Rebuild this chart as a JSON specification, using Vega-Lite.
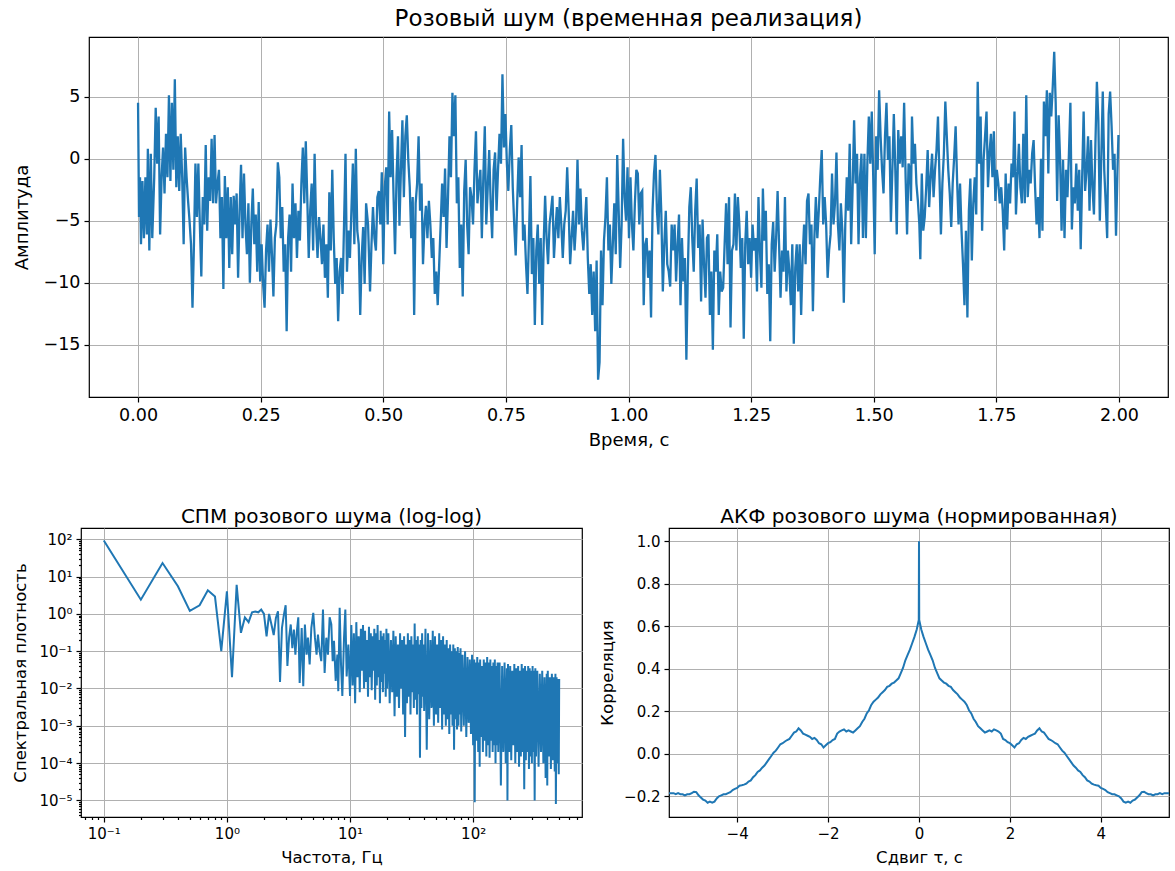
{
"$schema": "https://vega.github.io/schema/vega-lite/v6.json",
"background": "white",
"padding": {"left": 12, "top": 7, "right": 6, "bottom": 10},
"config": {
 "font": "DejaVu Sans",
 "view": {"stroke": "black", "strokeWidth": 1.2},
 "axis": {"domain": false, "grid": true, "gridColor": "#b0b0b0", "gridWidth": 1, "tickColor": "black", "tickWidth": 1.2, "tickSize": 5, "labelColor": "black", "labelPadding": 4, "titleColor": "black", "titleFontWeight": "normal", "labelFont": "DejaVu Sans", "titleFont": "DejaVu Sans", "labelFlush": false, "labelOverlap": false},
 "title": {"font": "DejaVu Sans", "fontWeight": "normal", "color": "black"},
 "line": {"color": "#1f77b4", "strokeWidth": 2}
},
"datasets": {
"sig": [
{"t":0.000,"v":4.5},{"t":0.002,"v":-4.7},{"t":0.004,"v":-1.5},{"t":0.006,"v":-6.9},{"t":0.009,"v":-1.8},{"t":0.012,"v":-6.4},{"t":0.015,"v":-1.5},{"t":0.018,"v":-6.1},{"t":0.020,"v":0.8},{"t":0.023,"v":-7.4},{"t":0.026,"v":0.4},{"t":0.029,"v":-6.4},{"t":0.033,"v":-1.5},{"t":0.036,"v":4.1},{"t":0.039,"v":-0.4},{"t":0.042,"v":3.4},{"t":0.045,"v":-6.1},{"t":0.048,"v":-1.5},{"t":0.051,"v":0.9},{"t":0.054,"v":-2.8},{"t":0.057,"v":2.0},{"t":0.060,"v":-1.5},{"t":0.063,"v":5.1},{"t":0.066,"v":-1.8},{"t":0.069,"v":4.5},{"t":0.072,"v":-0.9},{"t":0.075,"v":6.4},{"t":0.078,"v":-2.3},{"t":0.081,"v":1.8},{"t":0.084,"v":-2.6},{"t":0.087,"v":2.0},{"t":0.090,"v":-1.5},{"t":0.093,"v":-6.9},{"t":0.096,"v":0.9},{"t":0.099,"v":-1.5},{"t":0.102,"v":-3.4},{"t":0.105,"v":-5.0},{"t":0.108,"v":-6.9},{"t":0.111,"v":-12.0},{"t":0.114,"v":-6.9},{"t":0.117,"v":-0.4},{"t":0.120,"v":-4.7},{"t":0.123,"v":-0.4},{"t":0.126,"v":-5.3},{"t":0.129,"v":-9.5},{"t":0.132,"v":-3.1},{"t":0.135,"v":-5.3},{"t":0.138,"v":1.1},{"t":0.141,"v":-5.8},{"t":0.144,"v":-1.5},{"t":0.147,"v":-3.4},{"t":0.150,"v":1.6},{"t":0.153,"v":-3.6},{"t":0.156,"v":1.9},{"t":0.159,"v":-3.6},{"t":0.162,"v":-2.0},{"t":0.165,"v":-0.9},{"t":0.168,"v":-6.4},{"t":0.171,"v":-3.1},{"t":0.174,"v":-10.5},{"t":0.177,"v":-1.4},{"t":0.180,"v":-6.4},{"t":0.183,"v":-2.3},{"t":0.186,"v":-8.8},{"t":0.189,"v":-3.1},{"t":0.192,"v":-7.7},{"t":0.195,"v":-3.0},{"t":0.198,"v":-5.3},{"t":0.201,"v":-2.8},{"t":0.204,"v":-9.6},{"t":0.207,"v":-4.2},{"t":0.210,"v":-0.5},{"t":0.213,"v":-6.4},{"t":0.216,"v":-1.2},{"t":0.219,"v":-5.3},{"t":0.222,"v":-7.7},{"t":0.225,"v":-3.6},{"t":0.228,"v":-10.0},{"t":0.231,"v":-5.3},{"t":0.234,"v":-2.4},{"t":0.237,"v":-6.9},{"t":0.240,"v":-4.5},{"t":0.243,"v":-9.1},{"t":0.246,"v":-3.5},{"t":0.249,"v":-9.9},{"t":0.252,"v":-6.9},{"t":0.255,"v":-10.1},{"t":0.258,"v":-12.0},{"t":0.261,"v":-7.4},{"t":0.264,"v":-5.3},{"t":0.267,"v":-9.1},{"t":0.270,"v":-4.9},{"t":0.273,"v":-7.7},{"t":0.276,"v":-11.1},{"t":0.279,"v":-6.4},{"t":0.282,"v":-5.3},{"t":0.285,"v":-0.3},{"t":0.288,"v":-1.5},{"t":0.291,"v":-6.4},{"t":0.294,"v":-3.9},{"t":0.297,"v":-9.1},{"t":0.300,"v":-6.9},{"t":0.303,"v":-13.9},{"t":0.306,"v":-6.4},{"t":0.309,"v":-4.5},{"t":0.312,"v":-9.1},{"t":0.315,"v":-2.0},{"t":0.318,"v":-6.4},{"t":0.321,"v":-3.6},{"t":0.324,"v":-8.0},{"t":0.327,"v":-4.2},{"t":0.330,"v":-6.6},{"t":0.333,"v":-2.0},{"t":0.336,"v":0.9},{"t":0.339,"v":-3.6},{"t":0.342,"v":1.4},{"t":0.345,"v":-3.1},{"t":0.348,"v":-8.0},{"t":0.351,"v":-4.2},{"t":0.354,"v":-2.0},{"t":0.357,"v":-7.4},{"t":0.360,"v":0.4},{"t":0.363,"v":-5.3},{"t":0.366,"v":-8.0},{"t":0.369,"v":-4.7},{"t":0.372,"v":-6.4},{"t":0.375,"v":-8.5},{"t":0.378,"v":-5.3},{"t":0.381,"v":-9.6},{"t":0.384,"v":-6.9},{"t":0.387,"v":-11.2},{"t":0.390,"v":-2.7},{"t":0.393,"v":-7.4},{"t":0.396,"v":-0.9},{"t":0.399,"v":-6.4},{"t":0.402,"v":-10.1},{"t":0.405,"v":-8.0},{"t":0.408,"v":-13.1},{"t":0.411,"v":-9.1},{"t":0.414,"v":-8.0},{"t":0.417,"v":-10.9},{"t":0.420,"v":-5.3},{"t":0.423,"v":0.4},{"t":0.426,"v":-9.1},{"t":0.429,"v":-5.8},{"t":0.432,"v":-8.0},{"t":0.435,"v":-4.2},{"t":0.438,"v":-0.4},{"t":0.441,"v":-6.9},{"t":0.444,"v":0.8},{"t":0.447,"v":-5.8},{"t":0.450,"v":-6.9},{"t":0.453,"v":-12.6},{"t":0.456,"v":-8.0},{"t":0.459,"v":-5.5},{"t":0.462,"v":-10.1},{"t":0.465,"v":-3.6},{"t":0.469,"v":-5.3},
{"t":0.473,"v":-10.7},{"t":0.476,"v":-6.9},{"t":0.479,"v":-3.9},{"t":0.482,"v":-6.4},{"t":0.485,"v":-7.4},{"t":0.488,"v":-3.1},{"t":0.491,"v":-2.6},{"t":0.494,"v":-5.3},{"t":0.497,"v":-1.1},{"t":0.500,"v":-8.5},{"t":0.503,"v":-2.3},{"t":0.506,"v":-0.7},{"t":0.509,"v":-5.3},{"t":0.512,"v":3.8},{"t":0.515,"v":-1.5},{"t":0.518,"v":2.3},{"t":0.521,"v":-3.1},{"t":0.524,"v":-7.7},{"t":0.527,"v":-1.5},{"t":0.530,"v":1.8},{"t":0.533,"v":-5.4},{"t":0.536,"v":-0.9},{"t":0.539,"v":3.1},{"t":0.542,"v":-3.1},{"t":0.545,"v":1.8},{"t":0.548,"v":3.5},{"t":0.551,"v":-0.1},{"t":0.554,"v":-2.3},{"t":0.557,"v":-6.4},{"t":0.560,"v":-3.1},{"t":0.563,"v":-12.6},{"t":0.566,"v":-3.6},{"t":0.569,"v":-2.0},{"t":0.572,"v":1.8},{"t":0.575,"v":-4.2},{"t":0.578,"v":-2.0},{"t":0.581,"v":-8.5},{"t":0.584,"v":-5.3},{"t":0.587,"v":-3.8},{"t":0.590,"v":-6.4},{"t":0.593,"v":-3.4},{"t":0.596,"v":-5.3},{"t":0.599,"v":-8.0},{"t":0.602,"v":-6.4},{"t":0.605,"v":-10.9},{"t":0.608,"v":-9.1},{"t":0.611,"v":-11.8},{"t":0.614,"v":-8.5},{"t":0.617,"v":-5.3},{"t":0.620,"v":-2.0},{"t":0.623,"v":-4.7},{"t":0.626,"v":-0.8},{"t":0.629,"v":-7.2},{"t":0.632,"v":-3.1},{"t":0.635,"v":1.8},{"t":0.638,"v":-1.5},{"t":0.641,"v":5.3},{"t":0.644,"v":1.8},{"t":0.647,"v":5.1},{"t":0.650,"v":-3.6},{"t":0.653,"v":-1.5},{"t":0.656,"v":-8.8},{"t":0.659,"v":-5.3},{"t":0.662,"v":-11.1},{"t":0.665,"v":-2.6},{"t":0.668,"v":-0.1},{"t":0.671,"v":-5.3},{"t":0.674,"v":-7.7},{"t":0.677,"v":-2.3},{"t":0.680,"v":-3.1},{"t":0.683,"v":-5.3},{"t":0.686,"v":-0.9},{"t":0.689,"v":2.2},{"t":0.692,"v":-3.6},{"t":0.695,"v":-2.0},{"t":0.698,"v":-0.9},{"t":0.701,"v":-6.4},{"t":0.704,"v":-1.5},{"t":0.707,"v":2.6},{"t":0.710,"v":-5.3},{"t":0.713,"v":-2.3},{"t":0.716,"v":0.7},{"t":0.719,"v":-3.6},{"t":0.722,"v":-6.4},{"t":0.725,"v":-0.9},{"t":0.728,"v":0.5},{"t":0.731,"v":-4.2},{"t":0.734,"v":-0.9},{"t":0.737,"v":2.0},{"t":0.740,"v":-0.4},{"t":0.743,"v":6.8},{"t":0.746,"v":0.9},{"t":0.749,"v":3.6},{"t":0.752,"v":-0.4},{"t":0.755,"v":-2.6},{"t":0.758,"v":0.7},{"t":0.761,"v":2.7},{"t":0.764,"v":-2.3},{"t":0.767,"v":-5.3},{"t":0.770,"v":-7.8},{"t":0.773,"v":-3.6},{"t":0.776,"v":0.1},{"t":0.779,"v":-3.1},{"t":0.782,"v":1.1},{"t":0.785,"v":-6.6},{"t":0.788,"v":-5.3},{"t":0.791,"v":-8.5},{"t":0.794,"v":-10.9},{"t":0.797,"v":-6.4},{"t":0.800,"v":-1.4},{"t":0.803,"v":-9.3},{"t":0.806,"v":-6.4},{"t":0.809,"v":-13.4},{"t":0.812,"v":-7.4},{"t":0.815,"v":-5.3},{"t":0.818,"v":-10.1},{"t":0.821,"v":-6.4},{"t":0.824,"v":-13.4},{"t":0.827,"v":-6.9},{"t":0.830,"v":-3.0},{"t":0.833,"v":-6.4},{"t":0.836,"v":-8.5},{"t":0.839,"v":-5.3},{"t":0.842,"v":-4.2},{"t":0.845,"v":-3.0},{"t":0.848,"v":-8.0},{"t":0.851,"v":-5.8},{"t":0.854,"v":-3.9},{"t":0.857,"v":-6.4},{"t":0.860,"v":-3.1},{"t":0.863,"v":-5.3},{"t":0.866,"v":-8.0},{"t":0.869,"v":-5.3},{"t":0.872,"v":-4.2},{"t":0.875,"v":-0.7},{"t":0.878,"v":-4.2},{"t":0.881,"v":-8.5},{"t":0.884,"v":-6.4},{"t":0.887,"v":-4.2},{"t":0.890,"v":-7.4},{"t":0.893,"v":-5.3},{"t":0.896,"v":-0.1},{"t":0.899,"v":-5.3},{"t":0.902,"v":-2.4},{"t":0.905,"v":-5.8},{"t":0.908,"v":-7.4},{"t":0.911,"v":-5.3},{"t":0.914,"v":-3.1},{"t":0.917,"v":-8.0},{"t":0.920,"v":-10.9},{"t":0.923,"v":-8.5},{"t":0.926,"v":-12.6},{"t":0.929,"v":-9.1},{"t":0.932,"v":-13.9},{"t":0.935,"v":-8.2},{"t":0.938,"v":-17.8},{"t":0.941,"v":-16.4},{"t":0.944,"v":-7.4},{"t":0.947,"v":-11.8},{"t":0.950,"v":-6.6},{"t":0.953,"v":-4.7},{"t":0.956,"v":-1.5},{"t":0.959,"v":-7.4},{"t":0.962,"v":-5.3},{"t":0.965,"v":-10.1},{"t":0.968,"v":-6.9},{"t":0.971,"v":-3.6},{"t":0.974,"v":-7.7},{"t":0.977,"v":0.3},{"t":0.980,"v":-4.2},{"t":0.983,"v":-8.8},{"t":0.986,"v":-5.3},{"t":0.989,"v":1.6},{"t":0.992,"v":-3.1},{"t":0.995,"v":-5.0},{"t":0.998,"v":-0.7},{"t":1.001,"v":-6.4},{"t":1.004,"v":-1.5},{"t":1.007,"v":-5.3},{"t":1.010,"v":-7.4},{"t":1.013,"v":-3.6},{"t":1.016,"v":-0.9},
{"t":1.019,"v":-1.2},{"t":1.022,"v":-5.3},{"t":1.025,"v":-2.8},{"t":1.028,"v":-2.6},{"t":1.031,"v":-11.8},{"t":1.034,"v":-6.9},{"t":1.037,"v":-6.4},{"t":1.040,"v":-9.6},{"t":1.043,"v":-7.4},{"t":1.046,"v":-12.8},{"t":1.049,"v":-4.2},{"t":1.052,"v":-1.2},{"t":1.055,"v":0.3},{"t":1.058,"v":-4.2},{"t":1.061,"v":-6.1},{"t":1.064,"v":-0.9},{"t":1.067,"v":-4.5},{"t":1.070,"v":-10.7},{"t":1.073,"v":-6.9},{"t":1.076,"v":-4.2},{"t":1.079,"v":-8.5},{"t":1.082,"v":-9.1},{"t":1.085,"v":-10.3},{"t":1.088,"v":-5.3},{"t":1.091,"v":-7.4},{"t":1.094,"v":-5.3},{"t":1.097,"v":-9.9},{"t":1.100,"v":-6.9},{"t":1.103,"v":-4.5},{"t":1.106,"v":-11.8},{"t":1.109,"v":-6.4},{"t":1.112,"v":-9.9},{"t":1.115,"v":-8.0},{"t":1.118,"v":-16.2},{"t":1.121,"v":-9.1},{"t":1.124,"v":-3.9},{"t":1.127,"v":-2.3},{"t":1.130,"v":-6.4},{"t":1.133,"v":-9.1},{"t":1.136,"v":-4.2},{"t":1.139,"v":-1.6},{"t":1.142,"v":-7.2},{"t":1.145,"v":-5.3},{"t":1.148,"v":-11.5},{"t":1.151,"v":-4.9},{"t":1.154,"v":-8.5},{"t":1.157,"v":-11.2},{"t":1.160,"v":-6.4},{"t":1.163,"v":-6.1},{"t":1.166,"v":-12.6},{"t":1.169,"v":-9.1},{"t":1.172,"v":-15.4},{"t":1.175,"v":-7.4},{"t":1.178,"v":-9.1},{"t":1.181,"v":-6.1},{"t":1.184,"v":-12.6},{"t":1.187,"v":-9.1},{"t":1.190,"v":-10.7},{"t":1.193,"v":-10.4},{"t":1.196,"v":-6.9},{"t":1.199,"v":-3.6},{"t":1.202,"v":-8.5},{"t":1.205,"v":-3.1},{"t":1.208,"v":-13.6},{"t":1.211,"v":-7.4},{"t":1.214,"v":-6.9},{"t":1.217,"v":-2.8},{"t":1.220,"v":-7.4},{"t":1.223,"v":-3.1},{"t":1.226,"v":-5.3},{"t":1.229,"v":-8.8},{"t":1.232,"v":-6.4},{"t":1.235,"v":-14.5},{"t":1.238,"v":-6.9},{"t":1.241,"v":-4.2},{"t":1.244,"v":-8.5},{"t":1.247,"v":-6.4},{"t":1.250,"v":-9.6},{"t":1.253,"v":-5.3},{"t":1.256,"v":-7.4},{"t":1.259,"v":-6.4},{"t":1.262,"v":-10.7},{"t":1.265,"v":-3.1},{"t":1.268,"v":-7.4},{"t":1.271,"v":-10.4},{"t":1.274,"v":-2.4},{"t":1.277,"v":-6.6},{"t":1.280,"v":-4.2},{"t":1.283,"v":-10.9},{"t":1.286,"v":-8.5},{"t":1.289,"v":-14.7},{"t":1.292,"v":-6.9},{"t":1.295,"v":-5.1},{"t":1.298,"v":-9.1},{"t":1.301,"v":-6.4},{"t":1.304,"v":-2.6},{"t":1.307,"v":-6.9},{"t":1.310,"v":-11.2},{"t":1.313,"v":-7.4},{"t":1.316,"v":-9.1},{"t":1.319,"v":-3.1},{"t":1.322,"v":-10.7},{"t":1.325,"v":-7.4},{"t":1.328,"v":-9.1},{"t":1.331,"v":-11.8},{"t":1.334,"v":-6.9},{"t":1.337,"v":-14.9},{"t":1.340,"v":-8.8},{"t":1.343,"v":-6.9},{"t":1.346,"v":-10.7},{"t":1.349,"v":-6.9},{"t":1.352,"v":-12.6},{"t":1.355,"v":-8.0},{"t":1.358,"v":-5.3},{"t":1.361,"v":-8.5},{"t":1.364,"v":-3.4},{"t":1.367,"v":-2.8},{"t":1.370,"v":-6.9},{"t":1.373,"v":-5.3},{"t":1.376,"v":-12.3},{"t":1.379,"v":-6.4},{"t":1.382,"v":-3.1},{"t":1.385,"v":-6.4},{"t":1.388,"v":-4.2},{"t":1.391,"v":-1.5},{"t":1.394,"v":0.7},{"t":1.397,"v":-5.3},{"t":1.400,"v":-3.1},{"t":1.403,"v":-5.3},{"t":1.406,"v":-9.6},{"t":1.409,"v":-7.4},{"t":1.412,"v":-6.1},{"t":1.415,"v":-1.2},{"t":1.418,"v":-5.3},{"t":1.421,"v":-3.6},{"t":1.424,"v":0.5},{"t":1.427,"v":-5.3},{"t":1.430,"v":-7.4},{"t":1.433,"v":-3.6},{"t":1.436,"v":-5.8},{"t":1.439,"v":-11.6},{"t":1.442,"v":-5.3},{"t":1.445,"v":-1.5},{"t":1.448,"v":-4.2},{"t":1.451,"v":1.2},{"t":1.454,"v":-6.9},{"t":1.457,"v":-2.3},{"t":1.460,"v":3.1},{"t":1.463,"v":-2.0},{"t":1.466,"v":0.4},{"t":1.469,"v":-6.9},{"t":1.472,"v":-1.5},{"t":1.475,"v":0.4},{"t":1.478,"v":-6.4},{"t":1.481,"v":0.4},{"t":1.484,"v":-6.4},{"t":1.487,"v":-0.4},{"t":1.490,"v":3.4},{"t":1.493,"v":-0.4},{"t":1.496,"v":3.8},{"t":1.499,"v":-1.5},{"t":1.502,"v":-7.7},{"t":1.505,"v":1.8},{"t":1.508,"v":-0.9},{"t":1.511,"v":5.5},{"t":1.514,"v":1.8},{"t":1.517,"v":-0.9},{"t":1.520,"v":-2.8},{"t":1.523,"v":1.8},{"t":1.526,"v":4.5},{"t":1.529,"v":-0.1},{"t":1.532,"v":1.8},{"t":1.535,"v":-5.1},{"t":1.538,"v":-0.9},{"t":1.541,"v":3.6},{"t":1.544,"v":-0.9},{"t":1.547,"v":-6.1},{"t":1.550,"v":2.3},{"t":1.553,"v":-0.4},{"t":1.556,"v":1.8},{"t":1.559,"v":-0.7},{"t":1.562,"v":4.5},{"t":1.565,"v":-1.5},{"t":1.568,"v":-6.1},{"t":1.571,"v":-0.4},
{"t":1.574,"v":-0.9},{"t":1.576,"v":-3.4},{"t":1.578,"v":3.4},{"t":1.581,"v":-0.4},{"t":1.584,"v":1.2},{"t":1.587,"v":-2.0},{"t":1.590,"v":-3.4},{"t":1.593,"v":-5.3},{"t":1.595,"v":-8.1},{"t":1.598,"v":-1.2},{"t":1.601,"v":-5.8},{"t":1.604,"v":-4.7},{"t":1.607,"v":-2.3},{"t":1.610,"v":0.7},{"t":1.613,"v":-3.9},{"t":1.616,"v":-1.5},{"t":1.619,"v":0.4},{"t":1.622,"v":-3.1},{"t":1.625,"v":-0.9},{"t":1.628,"v":0.7},{"t":1.631,"v":3.4},{"t":1.634,"v":-1.5},{"t":1.637,"v":-6.1},{"t":1.640,"v":-2.0},{"t":1.643,"v":0.4},{"t":1.646,"v":4.6},{"t":1.649,"v":1.8},{"t":1.652,"v":-0.9},{"t":1.655,"v":-2.8},{"t":1.658,"v":-5.5},{"t":1.661,"v":-2.0},{"t":1.664,"v":0.1},{"t":1.667,"v":2.6},{"t":1.670,"v":-1.8},{"t":1.673,"v":-5.3},{"t":1.676,"v":-2.0},{"t":1.679,"v":-5.8},{"t":1.682,"v":-8.5},{"t":1.685,"v":-11.8},{"t":1.688,"v":-5.8},{"t":1.691,"v":-12.8},{"t":1.694,"v":-4.2},{"t":1.697,"v":-1.6},{"t":1.700,"v":-8.2},{"t":1.703,"v":-3.6},{"t":1.706,"v":-1.5},{"t":1.709,"v":-4.5},{"t":1.712,"v":6.2},{"t":1.715,"v":-0.4},{"t":1.718,"v":3.4},{"t":1.721,"v":-5.8},{"t":1.724,"v":-0.1},{"t":1.727,"v":1.8},{"t":1.730,"v":3.8},{"t":1.733,"v":-2.3},{"t":1.736,"v":0.4},{"t":1.739,"v":2.0},{"t":1.742,"v":-1.5},{"t":1.745,"v":2.2},{"t":1.748,"v":-3.4},{"t":1.751,"v":-0.9},{"t":1.754,"v":-2.0},{"t":1.757,"v":-3.6},{"t":1.760,"v":-2.3},{"t":1.763,"v":-4.2},{"t":1.766,"v":-7.4},{"t":1.769,"v":-1.2},{"t":1.772,"v":-5.7},{"t":1.775,"v":-2.0},{"t":1.778,"v":-3.6},{"t":1.781,"v":-0.4},{"t":1.784,"v":-1.5},{"t":1.787,"v":3.8},{"t":1.790,"v":-4.5},{"t":1.793,"v":-1.5},{"t":1.796,"v":1.2},{"t":1.799,"v":-2.3},{"t":1.802,"v":-3.6},{"t":1.805,"v":2.0},{"t":1.808,"v":-3.6},{"t":1.811,"v":5.1},{"t":1.814,"v":-3.1},{"t":1.817,"v":-0.9},{"t":1.820,"v":-2.0},{"t":1.823,"v":0.4},{"t":1.826,"v":1.5},{"t":1.829,"v":-2.3},{"t":1.832,"v":-5.3},{"t":1.835,"v":-3.1},{"t":1.838,"v":-6.4},{"t":1.841,"v":0.0},{"t":1.844,"v":-5.8},{"t":1.847,"v":4.6},{"t":1.850,"v":1.8},{"t":1.853,"v":5.5},{"t":1.856,"v":-1.2},{"t":1.859,"v":5.3},{"t":1.862,"v":3.4},{"t":1.865,"v":5.8},{"t":1.868,"v":8.6},{"t":1.871,"v":4.5},{"t":1.874,"v":-3.4},{"t":1.877,"v":3.5},{"t":1.880,"v":-0.1},{"t":1.883,"v":-5.8},{"t":1.886,"v":-0.1},{"t":1.889,"v":-6.4},{"t":1.892,"v":-0.9},{"t":1.895,"v":-3.1},{"t":1.898,"v":0.4},{"t":1.901,"v":4.5},{"t":1.904,"v":-5.7},{"t":1.907,"v":-2.3},{"t":1.910,"v":-3.6},{"t":1.913,"v":-0.4},{"t":1.916,"v":-4.2},{"t":1.919,"v":-0.9},{"t":1.922,"v":-7.3},{"t":1.925,"v":-1.5},{"t":1.928,"v":3.8},{"t":1.931,"v":-2.6},{"t":1.934,"v":-0.9},{"t":1.937,"v":1.8},{"t":1.940,"v":-4.2},{"t":1.943,"v":1.5},{"t":1.946,"v":-2.3},{"t":1.949,"v":-4.5},{"t":1.952,"v":1.2},{"t":1.955,"v":6.2},{"t":1.958,"v":3.1},{"t":1.961,"v":-5.0},{"t":1.964,"v":0.1},{"t":1.967,"v":5.4},{"t":1.970,"v":-0.9},{"t":1.973,"v":-3.6},{"t":1.976,"v":-6.4},{"t":1.979,"v":3.6},{"t":1.982,"v":5.4},{"t":1.985,"v":2.6},{"t":1.988,"v":-0.9},{"t":1.991,"v":0.4},{"t":1.994,"v":-6.2},{"t":1.997,"v":-0.9},{"t":1.999,"v":1.9}
],
"psd": [
{"f":0.1,"p":92},{"f":0.2,"p":2.4},{"f":0.3,"p":23},{"f":0.4,"p":5.5},{"f":0.5,"p":1.2},{"f":0.6,"p":1.7},{"f":0.7,"p":4.3},{"f":0.8,"p":2.9},{"f":0.9,"p":0.1},{"f":1.0,"p":4.0},{"f":1.1,"p":0.02},{"f":1.2,"p":6.0},{"f":1.3,"p":0.31},{"f":1.4,"p":0.8},{"f":1.5,"p":0.6},{"f":1.6,"p":1.1},{"f":1.7,"p":1.15},{"f":1.8,"p":1.1},{"f":1.9,"p":1.3},{"f":2.0,"p":1.0},{"f":2.1,"p":0.25},{"f":2.2,"p":1.0},{"f":2.3,"p":0.52},{"f":2.4,"p":0.27},{"f":2.5,"p":0.78},{"f":2.6,"p":1.18},{"f":2.7,"p":0.015},{"f":2.8,"p":0.42},{"f":2.9,"p":0.92},{"f":3.0,"p":1.7},{"f":3.1,"p":0.04},{"f":3.2,"p":0.23},{"f":3.3,"p":0.52},{"f":3.4,"p":0.12},{"f":3.5,"p":0.38},{"f":3.6,"p":0.081},{"f":3.7,"p":0.34},{"f":3.8,"p":0.81},{"f":3.9,"p":0.014},{"f":4.05,"p":0.42},{"f":4.17,"p":0.0115},{"f":4.3,"p":0.52},{"f":4.44,"p":0.081},{"f":4.55,"p":0.23},{"f":4.7,"p":0.044},{"f":4.85,"p":0.42},{"f":5.03,"p":1.07},{"f":5.19,"p":0.23},{"f":5.35,"p":0.081},{"f":5.49,"p":0.28},{"f":5.66,"p":0.1},{"f":5.84,"p":0.054},{"f":6.03,"p":1.3},{"f":6.22,"p":0.026},{"f":6.42,"p":0.23},{"f":6.62,"p":0.081},{"f":6.83,"p":0.81},{"f":7.05,"p":0.52},{"f":7.23,"p":0.054},{"f":7.41,"p":0.19},{"f":7.65,"p":0.016},{"f":7.89,"p":0.081},{"f":8.03,"p":0.0085},{"f":8.24,"p":1.45},{"f":8.45,"p":0.044},{"f":8.66,"p":0.0063},{"f":8.94,"p":0.23},{"f":9.16,"p":1.3},{"f":9.39,"p":0.021},{"f":9.69,"p":0.15},{"f":10.0,"p":0.0063},
{"f":10.25,"p":0.5},{"f":10.5,"p":0.012},{"f":10.75,"p":0.3},{"f":11.0,"p":0.004},{"f":11.25,"p":0.6},{"f":11.5,"p":0.02},{"f":11.75,"p":0.25},{"f":12.0,"p":0.008},{"f":12.25,"p":0.4},{"f":12.5,"p":0.03},{"f":12.75,"p":0.5},{"f":13.0,"p":0.01},{"f":13.25,"p":0.35},{"f":13.5,"p":0.015},{"f":13.75,"p":0.2},{"f":14.0,"p":0.006},{"f":14.25,"p":0.45},{"f":14.5,"p":0.02},{"f":14.75,"p":0.3},{"f":15.0,"p":0.009},{"f":15.25,"p":0.25},{"f":15.5,"p":0.03},{"f":15.75,"p":0.4},{"f":16.0,"p":0.005},{"f":16.25,"p":0.3},{"f":16.5,"p":0.012},{"f":16.75,"p":0.5},{"f":17.0,"p":0.02},{"f":17.25,"p":0.2},{"f":17.5,"p":0.004},{"f":17.75,"p":0.35},{"f":18.0,"p":0.015},{"f":18.25,"p":0.25},{"f":18.5,"p":0.008},{"f":18.75,"p":0.3},{"f":19.0,"p":0.025},{"f":19.25,"p":0.2},{"f":19.5,"p":0.006},{"f":19.75,"p":0.4},{"f":20.0,"p":0.01},
{"f":20.5,"p":0.3},{"f":21,"p":0.004},{"f":21.5,"p":0.2},{"f":22,"p":0.008},{"f":22.5,"p":0.35},{"f":23,"p":0.0018},{"f":23.5,"p":0.25},{"f":24,"p":0.006},{"f":24.5,"p":0.15},{"f":25,"p":0.003},{"f":25.5,"p":0.3},{"f":26,"p":0.01},{"f":26.5,"p":0.2},{"f":27,"p":0.002},{"f":27.5,"p":0.25},{"f":28,"p":5e-4},{"f":28.5,"p":0.15},{"f":29,"p":0.004},{"f":29.5,"p":0.3},{"f":30,"p":0.006},{"f":30.5,"p":0.2},{"f":31,"p":0.002},{"f":31.5,"p":0.25},{"f":32,"p":0.008},{"f":32.5,"p":0.15},{"f":33,"p":0.003},{"f":33.5,"p":0.55},{"f":34,"p":0.005},{"f":34.5,"p":0.2},{"f":35,"p":0.002},{"f":35.5,"p":0.25},{"f":36,"p":0.007},{"f":36.5,"p":0.15},{"f":37,"p":1.4e-4},{"f":37.5,"p":0.2},{"f":38,"p":0.003},{"f":38.5,"p":0.3},{"f":39,"p":0.006},{"f":39.5,"p":0.15},{"f":40,"p":0.0025},
{"f":41,"p":0.4},{"f":42,"p":2.3e-4},{"f":43,"p":0.3},{"f":44,"p":0.0015},{"f":45,"p":0.2},{"f":46,"p":0.003},{"f":47,"p":0.35},{"f":48,"p":0.001},{"f":49,"p":0.25},{"f":50,"p":0.002},{"f":51,"p":0.15},{"f":52,"p":0.0012},{"f":53,"p":0.3},{"f":54,"p":0.003},{"f":55,"p":0.2},{"f":56,"p":8e-4},{"f":57,"p":0.25},{"f":58,"p":0.002},{"f":59,"p":0.15},{"f":60,"p":0.001},{"f":61,"p":0.2},{"f":62,"p":0.0015},{"f":63,"p":0.12},{"f":64,"p":6e-4},{"f":65,"p":0.15},{"f":66,"p":0.002},{"f":67,"p":0.1},{"f":68,"p":0.001},{"f":69,"p":0.15},{"f":70,"p":2.3e-4},{"f":71,"p":0.12},{"f":72,"p":0.0015},{"f":73,"p":0.1},{"f":74,"p":8e-4},{"f":75,"p":0.13},{"f":76,"p":0.001},{"f":77,"p":0.09},{"f":78,"p":0.002},{"f":79,"p":0.12},{"f":80,"p":7e-4},
{"f":82,"p":0.08},{"f":84,"p":0.001},{"f":86,"p":0.1},{"f":88,"p":5e-4},{"f":90,"p":0.07},{"f":92,"p":0.0012},{"f":94,"p":0.06},{"f":96,"p":6e-4},{"f":98,"p":0.08},{"f":100,"p":3e-4},{"f":102,"p":0.06},{"f":103,"p":9e-6},{"f":104,"p":0.05},{"f":106,"p":4e-4},{"f":108,"p":0.07},{"f":110,"p":2e-4},{"f":112,"p":0.05},{"f":113,"p":8e-5},{"f":114,"p":0.06},{"f":116,"p":5e-4},{"f":118,"p":0.04},{"f":120,"p":2e-4},{"f":122,"p":0.06},{"f":124,"p":4e-4},{"f":126,"p":0.05},{"f":128,"p":1.5e-4},{"f":130,"p":0.07},{"f":132,"p":3e-4},{"f":134,"p":0.05},{"f":136,"p":1.4e-4},{"f":138,"p":0.06},{"f":140,"p":4e-4},{"f":142,"p":0.04},{"f":144,"p":2e-4},{"f":146,"p":0.05},{"f":148,"p":3e-4},{"f":150,"p":0.06},{"f":152,"p":1e-4},{"f":154,"p":0.04},{"f":156,"p":3e-4},{"f":158,"p":0.05},{"f":160,"p":2e-4},
{"f":164,"p":0.05},{"f":168,"p":2.5e-5},{"f":172,"p":0.04},{"f":176,"p":2e-4},{"f":180,"p":0.05},{"f":184,"p":1e-4},{"f":188,"p":0.035},{"f":190,"p":1e-5},{"f":192,"p":0.045},{"f":196,"p":2e-4},{"f":200,"p":0.04},{"f":204,"p":1.2e-4},{"f":208,"p":0.03},{"f":212,"p":3e-4},{"f":216,"p":0.045},{"f":220,"p":1e-4},{"f":224,"p":0.035},{"f":228,"p":2e-4},{"f":232,"p":0.04},{"f":236,"p":8e-5},{"f":240,"p":0.03},{"f":244,"p":1.5e-4},{"f":248,"p":0.045},{"f":252,"p":2e-4},{"f":256,"p":0.035},{"f":260,"p":2e-5},{"f":264,"p":0.04},{"f":268,"p":1.2e-4},{"f":272,"p":0.03},{"f":276,"p":2e-4},{"f":280,"p":0.04},{"f":284,"p":7e-5},{"f":288,"p":0.035},{"f":292,"p":1.5e-4},{"f":296,"p":0.03},{"f":300,"p":1e-4},{"f":304,"p":0.04},{"f":308,"p":2e-4},{"f":312,"p":0.03},{"f":316,"p":1e-5},{"f":320,"p":0.035},
{"f":324,"p":1.5e-4},{"f":332,"p":0.03},{"f":340,"p":8e-5},{"f":348,"p":0.025},{"f":356,"p":2e-4},{"f":364,"p":0.03},{"f":372,"p":1e-4},{"f":380,"p":0.02},{"f":388,"p":4e-5},{"f":396,"p":0.025},{"f":400,"p":2.5e-5},{"f":404,"p":0.03},{"f":412,"p":1.5e-4},{"f":420,"p":0.02},{"f":428,"p":7e-5},{"f":436,"p":0.025},{"f":444,"p":1.2e-4},{"f":452,"p":0.02},{"f":460,"p":6e-5},{"f":466,"p":0.025},{"f":470,"p":8e-6},{"f":476,"p":0.02},{"f":484,"p":1e-4},{"f":490,"p":0.018},{"f":496,"p":5e-5},{"f":500,"p":0.018}
],
"acf": [
{"lag":-5.5,"r":-0.185},{"lag":-5.45,"r":-0.185},{"lag":-5.4,"r":-0.185},{"lag":-5.35,"r":-0.19},{"lag":-5.3,"r":-0.185},{"lag":-5.25,"r":-0.19},{"lag":-5.2,"r":-0.19},{"lag":-5.15,"r":-0.195},{"lag":-5.1,"r":-0.19},{"lag":-5.05,"r":-0.19},{"lag":-5.0,"r":-0.185},{"lag":-4.95,"r":-0.178},{"lag":-4.9,"r":-0.18},{"lag":-4.85,"r":-0.195},{"lag":-4.8,"r":-0.205},{"lag":-4.75,"r":-0.215},{"lag":-4.7,"r":-0.22},{"lag":-4.65,"r":-0.23},{"lag":-4.6,"r":-0.225},{"lag":-4.55,"r":-0.23},{"lag":-4.5,"r":-0.225},{"lag":-4.45,"r":-0.21},{"lag":-4.4,"r":-0.2},{"lag":-4.35,"r":-0.195},{"lag":-4.3,"r":-0.19},{"lag":-4.25,"r":-0.19},{"lag":-4.2,"r":-0.185},{"lag":-4.15,"r":-0.18},{"lag":-4.1,"r":-0.17},{"lag":-4.05,"r":-0.165},{"lag":-4.0,"r":-0.16},{"lag":-3.95,"r":-0.15},{"lag":-3.9,"r":-0.148},{"lag":-3.85,"r":-0.145},{"lag":-3.8,"r":-0.14},{"lag":-3.75,"r":-0.13},{"lag":-3.7,"r":-0.125},{"lag":-3.65,"r":-0.11},{"lag":-3.6,"r":-0.1},{"lag":-3.55,"r":-0.085},{"lag":-3.5,"r":-0.078},{"lag":-3.45,"r":-0.065},{"lag":-3.4,"r":-0.055},{"lag":-3.35,"r":-0.04},{"lag":-3.3,"r":-0.025},{"lag":-3.25,"r":-0.01},{"lag":-3.2,"r":0.005},{"lag":-3.15,"r":0.015},{"lag":-3.1,"r":0.03},{"lag":-3.05,"r":0.045},{"lag":-3.0,"r":0.05},{"lag":-2.95,"r":0.058},{"lag":-2.9,"r":0.065},{"lag":-2.85,"r":0.07},{"lag":-2.8,"r":0.085},{"lag":-2.75,"r":0.1},{"lag":-2.7,"r":0.105},{"lag":-2.65,"r":0.12},{"lag":-2.6,"r":0.11},{"lag":-2.55,"r":0.095},{"lag":-2.5,"r":0.09},{"lag":-2.45,"r":0.085},{"lag":-2.4,"r":0.08},{"lag":-2.35,"r":0.07},{"lag":-2.3,"r":0.075},{"lag":-2.25,"r":0.065},{"lag":-2.2,"r":0.05},{"lag":-2.15,"r":0.045},{"lag":-2.1,"r":0.03},{"lag":-2.05,"r":0.04},{"lag":-2.0,"r":0.05},{"lag":-1.95,"r":0.055},{"lag":-1.9,"r":0.065},{"lag":-1.85,"r":0.07},{"lag":-1.8,"r":0.095},{"lag":-1.75,"r":0.105},{"lag":-1.7,"r":0.11},{"lag":-1.65,"r":0.115},{"lag":-1.6,"r":0.105},{"lag":-1.55,"r":0.11},{"lag":-1.5,"r":0.105},{"lag":-1.45,"r":0.1},{"lag":-1.4,"r":0.11},{"lag":-1.35,"r":0.12},{"lag":-1.3,"r":0.13},{"lag":-1.25,"r":0.15},{"lag":-1.2,"r":0.165},{"lag":-1.15,"r":0.19},{"lag":-1.1,"r":0.205},{"lag":-1.05,"r":0.23},{"lag":-1.0,"r":0.245},{"lag":-0.95,"r":0.255},{"lag":-0.9,"r":0.265},{"lag":-0.85,"r":0.28},{"lag":-0.8,"r":0.29},{"lag":-0.75,"r":0.3},{"lag":-0.7,"r":0.315},{"lag":-0.65,"r":0.32},{"lag":-0.6,"r":0.33},{"lag":-0.55,"r":0.335},{"lag":-0.5,"r":0.345},{"lag":-0.45,"r":0.355},{"lag":-0.4,"r":0.38},{"lag":-0.35,"r":0.405},{"lag":-0.3,"r":0.44},{"lag":-0.25,"r":0.465},{"lag":-0.2,"r":0.49},{"lag":-0.15,"r":0.52},{"lag":-0.1,"r":0.55},{"lag":-0.05,"r":0.585},{"lag":-0.005,"r":0.63},
{"lag":0,"r":1.0},
{"lag":0.005,"r":0.63},{"lag":0.05,"r":0.585},{"lag":0.1,"r":0.55},{"lag":0.15,"r":0.52},{"lag":0.2,"r":0.49},{"lag":0.25,"r":0.465},{"lag":0.3,"r":0.44},{"lag":0.35,"r":0.405},{"lag":0.4,"r":0.38},{"lag":0.45,"r":0.355},{"lag":0.5,"r":0.345},{"lag":0.55,"r":0.335},{"lag":0.6,"r":0.33},{"lag":0.65,"r":0.32},{"lag":0.7,"r":0.315},{"lag":0.75,"r":0.3},{"lag":0.8,"r":0.29},{"lag":0.85,"r":0.28},{"lag":0.9,"r":0.265},{"lag":0.95,"r":0.255},{"lag":1.0,"r":0.245},{"lag":1.05,"r":0.23},{"lag":1.1,"r":0.205},{"lag":1.15,"r":0.19},{"lag":1.2,"r":0.165},{"lag":1.25,"r":0.15},{"lag":1.3,"r":0.13},{"lag":1.35,"r":0.12},{"lag":1.4,"r":0.11},{"lag":1.45,"r":0.1},{"lag":1.5,"r":0.105},{"lag":1.55,"r":0.11},{"lag":1.6,"r":0.105},{"lag":1.65,"r":0.115},{"lag":1.7,"r":0.11},{"lag":1.75,"r":0.105},{"lag":1.8,"r":0.095},{"lag":1.85,"r":0.07},{"lag":1.9,"r":0.065},{"lag":1.95,"r":0.055},{"lag":2.0,"r":0.05},{"lag":2.05,"r":0.04},{"lag":2.1,"r":0.03},{"lag":2.15,"r":0.045},{"lag":2.2,"r":0.05},{"lag":2.25,"r":0.065},{"lag":2.3,"r":0.075},{"lag":2.35,"r":0.07},{"lag":2.4,"r":0.08},{"lag":2.45,"r":0.085},{"lag":2.5,"r":0.09},{"lag":2.55,"r":0.095},{"lag":2.6,"r":0.11},{"lag":2.65,"r":0.12},{"lag":2.7,"r":0.105},{"lag":2.75,"r":0.1},{"lag":2.8,"r":0.085},{"lag":2.85,"r":0.07},{"lag":2.9,"r":0.065},{"lag":2.95,"r":0.058},{"lag":3.0,"r":0.05},{"lag":3.05,"r":0.045},{"lag":3.1,"r":0.03},{"lag":3.15,"r":0.015},{"lag":3.2,"r":0.005},{"lag":3.25,"r":-0.01},{"lag":3.3,"r":-0.025},{"lag":3.35,"r":-0.04},{"lag":3.4,"r":-0.055},{"lag":3.45,"r":-0.065},{"lag":3.5,"r":-0.078},{"lag":3.55,"r":-0.085},{"lag":3.6,"r":-0.1},{"lag":3.65,"r":-0.11},{"lag":3.7,"r":-0.125},{"lag":3.75,"r":-0.13},{"lag":3.8,"r":-0.14},{"lag":3.85,"r":-0.145},{"lag":3.9,"r":-0.148},{"lag":3.95,"r":-0.15},{"lag":4.0,"r":-0.16},{"lag":4.05,"r":-0.165},{"lag":4.1,"r":-0.17},{"lag":4.15,"r":-0.18},{"lag":4.2,"r":-0.185},{"lag":4.25,"r":-0.19},{"lag":4.3,"r":-0.19},{"lag":4.35,"r":-0.195},{"lag":4.4,"r":-0.2},{"lag":4.45,"r":-0.21},{"lag":4.5,"r":-0.225},{"lag":4.55,"r":-0.23},{"lag":4.6,"r":-0.225},{"lag":4.65,"r":-0.23},{"lag":4.7,"r":-0.22},{"lag":4.75,"r":-0.215},{"lag":4.8,"r":-0.205},{"lag":4.85,"r":-0.195},{"lag":4.9,"r":-0.18},{"lag":4.95,"r":-0.178},{"lag":5.0,"r":-0.185},{"lag":5.05,"r":-0.19},{"lag":5.1,"r":-0.19},{"lag":5.15,"r":-0.195},{"lag":5.2,"r":-0.19},{"lag":5.25,"r":-0.19},{"lag":5.3,"r":-0.185},{"lag":5.35,"r":-0.19},{"lag":5.4,"r":-0.185},{"lag":5.45,"r":-0.185},{"lag":5.5,"r":-0.185}
]
},
"spacing": 55,
"vconcat": [
 {
  "bounds": "flush",
  "spacing": 7,
  "hconcat": [
   {"width": 1, "height": 1, "view": {"stroke": null}, "data": {"values": []}, "mark": {"type": "point", "opacity": 0}},
   {
    "width": 1079, "height": 360,
    "title": {"text": "Розовый шум (временная реализация)", "fontSize": 23, "offset": 6},
    "data": {"name": "sig"},
    "mark": {"type": "line", "strokeWidth": 2.3},
    "encoding": {
     "x": {"field": "t", "type": "quantitative", "scale": {"domain": [-0.1, 2.1], "nice": false, "zero": false},
       "axis": {"title": "Время, с", "values": [0, 0.25, 0.5, 0.75, 1, 1.25, 1.5, 1.75, 2], "format": ".2f", "labelFontSize": 17.5, "titleFontSize": 18, "titlePadding": 8}},
     "y": {"field": "v", "type": "quantitative", "scale": {"domain": [-19.2, 9.8], "nice": false, "zero": false},
       "axis": {"title": "Амплитуда", "values": [-15, -10, -5, 0, 5], "format": "d", "labelFontSize": 17.5, "titleFontSize": 18, "titlePadding": 12}}
    }
   }
  ]
 },
 {
  "bounds": "flush",
  "spacing": 87,
  "hconcat": [
   {
    "width": 501, "height": 289,
    "title": {"text": "СПМ розового шума (log-log)", "fontSize": 20, "offset": 1},
    "data": {"name": "psd"},
    "mark": {"type": "line", "strokeWidth": 2},
    "encoding": {
     "x": {"field": "f", "type": "quantitative", "scale": {"type": "log", "domain": [0.0653, 766], "nice": false},
       "axis": {"title": "Частота, Гц", "labelFontSize": 15, "titleFontSize": 16.5, "titlePadding": 8,
         "values": [0.07,0.08,0.09,0.1,0.2,0.3,0.4,0.5,0.6,0.7,0.8,0.9,1,2,3,4,5,6,7,8,9,10,20,30,40,50,60,70,80,90,100,200,300,400,500,600,700],
         "labelExpr": "abs(log(datum.value)/LN10 - round(log(datum.value)/LN10)) > 0.001 ? '' : datum.value < 0.5 ? '10⁻¹' : datum.value < 5 ? '10⁰' : datum.value < 50 ? '10¹' : '10²'",
         "gridOpacity": {"condition": {"test": "abs(log(datum.value)/LN10 - round(log(datum.value)/LN10)) < 0.001", "value": 1}, "value": 0},
         "tickSize": {"condition": {"test": "abs(log(datum.value)/LN10 - round(log(datum.value)/LN10)) < 0.001", "value": 5}, "value": 2.5}}},
     "y": {"field": "p", "type": "quantitative", "scale": {"type": "log", "domain": [3.6e-6, 200], "nice": false},
       "axis": {"title": "Спектральная плотность", "labelFontSize": 15, "titleFontSize": 16.5, "titlePadding": 10,
         "values": [4e-6,5e-6,6e-6,7e-6,8e-6,9e-6,1e-5,2e-5,3e-5,4e-5,5e-5,6e-5,7e-5,8e-5,9e-5,1e-4,2e-4,3e-4,4e-4,5e-4,6e-4,7e-4,8e-4,9e-4,1e-3,2e-3,3e-3,4e-3,5e-3,6e-3,7e-3,8e-3,9e-3,0.01,0.02,0.03,0.04,0.05,0.06,0.07,0.08,0.09,0.1,0.2,0.3,0.4,0.5,0.6,0.7,0.8,0.9,1,2,3,4,5,6,7,8,9,10,20,30,40,50,60,70,80,90,100],
         "labelExpr": "abs(log(datum.value)/LN10 - round(log(datum.value)/LN10)) > 0.001 ? '' : datum.value < 5e-5 ? '10⁻⁵' : datum.value < 5e-4 ? '10⁻⁴' : datum.value < 5e-3 ? '10⁻³' : datum.value < 5e-2 ? '10⁻²' : datum.value < 0.5 ? '10⁻¹' : datum.value < 5 ? '10⁰' : datum.value < 50 ? '10¹' : '10²'",
         "gridOpacity": {"condition": {"test": "abs(log(datum.value)/LN10 - round(log(datum.value)/LN10)) < 0.001", "value": 1}, "value": 0},
         "tickSize": {"condition": {"test": "abs(log(datum.value)/LN10 - round(log(datum.value)/LN10)) < 0.001", "value": 5}, "value": 2.5}}}
    }
   },
   {
    "width": 500, "height": 289,
    "title": {"text": "АКФ розового шума (нормированная)", "fontSize": 20, "offset": 1},
    "data": {"name": "acf"},
    "mark": {"type": "line", "strokeWidth": 2},
    "encoding": {
     "x": {"field": "lag", "type": "quantitative", "scale": {"domain": [-5.5, 5.5], "nice": false, "zero": false},
       "axis": {"title": "Сдвиг τ, с", "values": [-4, -2, 0, 2, 4], "format": "d", "labelFontSize": 15, "titleFontSize": 16.5, "titlePadding": 8}},
     "y": {"field": "r", "type": "quantitative", "scale": {"domain": [-0.297, 1.062], "nice": false, "zero": false},
       "axis": {"title": "Корреляция", "values": [-0.2, 0, 0.2, 0.4, 0.6, 0.8, 1.0], "format": ".1f", "labelFontSize": 15, "titleFontSize": 16.5, "titlePadding": 8}}
    }
   }
  ]
 }
]
}
